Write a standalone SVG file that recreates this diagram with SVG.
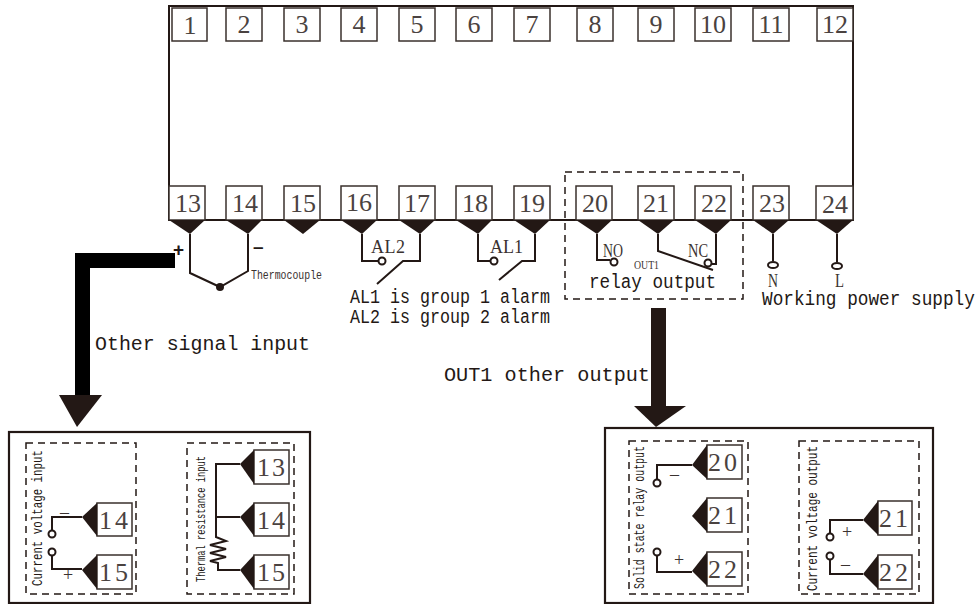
<svg xmlns="http://www.w3.org/2000/svg" width="979" height="604" viewBox="0 0 979 604">
<style>
.bx{fill:#fff;stroke:#3a302c;stroke-width:1.5}
.n{font-family:"Liberation Serif",serif;font-size:26px;fill:#4a4240;text-anchor:middle}
.tr{fill:#231815}
.w{fill:none;stroke:#231815;stroke-width:2}
.c{fill:#fff;stroke:#231815;stroke-width:2}
.d{fill:none;stroke:#231815;stroke-width:1.5;stroke-dasharray:7 5}
.pn{fill:#fff;stroke:#231815;stroke-width:2.2}
.m{font-family:"Liberation Mono",monospace;font-size:20px;fill:#231815}
.s{font-family:"Liberation Serif",serif;fill:#3a3230}
.v{font-family:"Liberation Mono",monospace;font-size:15px;fill:#231815}
.sy{font-family:"Liberation Serif",serif;font-size:18px;fill:#3a3230}
.b{font-family:"Liberation Sans",sans-serif;font-size:19px;font-weight:bold;fill:#231815}
</style>
<rect width="979" height="604" fill="#fff"/>
<g id="device"><path d="M169 220V6H853V220Z" fill="none" stroke="#231815" stroke-width="2"/></g>
<g id="t1"><rect class="bx" x="172" y="8" width="35" height="33"/><text class="n" x="190" y="34">1</text></g>
<g id="t2"><rect class="bx" x="226" y="8" width="36" height="33"/><text class="n" x="244" y="33">2</text></g>
<g id="t3"><rect class="bx" x="284" y="8" width="36" height="33"/><text class="n" x="302" y="33">3</text></g>
<g id="t4"><rect class="bx" x="341" y="8" width="36" height="33"/><text class="n" x="359" y="33">4</text></g>
<g id="t5"><rect class="bx" x="399" y="8" width="36" height="33"/><text class="n" x="417" y="33">5</text></g>
<g id="t6"><rect class="bx" x="456" y="8" width="36" height="33"/><text class="n" x="474" y="33">6</text></g>
<g id="t7"><rect class="bx" x="514" y="8" width="36" height="33"/><text class="n" x="532" y="33">7</text></g>
<g id="t8"><rect class="bx" x="577" y="8" width="36" height="33"/><text class="n" x="595" y="33">8</text></g>
<g id="t9"><rect class="bx" x="638" y="8" width="36" height="33"/><text class="n" x="656" y="33">9</text></g>
<g id="t10"><rect class="bx" x="695" y="8" width="36" height="33"/><text class="n" x="713" y="33">10</text></g>
<g id="t11"><rect class="bx" x="753" y="8" width="36" height="33"/><text class="n" x="771" y="33">11</text></g>
<g id="t12"><rect class="bx" x="817" y="8" width="36" height="33"/><text class="n" x="835" y="33">12</text></g>
<g id="t13"><rect class="bx" x="169" y="186" width="36" height="34"/><text class="n" x="188" y="212">13</text><path class="tr" d="M169 220H205L190 234Z"/></g>
<g id="t14"><rect class="bx" x="226" y="186" width="36" height="34"/><text class="n" x="245" y="212">14</text><path class="tr" d="M226 220H262L248 234Z"/></g>
<g id="t15"><rect class="bx" x="284" y="186" width="36" height="34"/><text class="n" x="303" y="212">15</text><path class="tr" d="M284 220H320L303 234Z"/></g>
<g id="t16"><rect class="bx" x="341" y="186" width="36" height="34"/><text class="n" x="359" y="211">16</text><path class="tr" d="M341 220H377L362 234Z"/></g>
<g id="t17"><rect class="bx" x="399" y="186" width="36" height="34"/><text class="n" x="417" y="212">17</text><path class="tr" d="M399 220H435L420 234Z"/></g>
<g id="t18"><rect class="bx" x="456" y="186" width="36" height="34"/><text class="n" x="475" y="212">18</text><path class="tr" d="M456 220H492L478 234Z"/></g>
<g id="t19"><rect class="bx" x="514" y="186" width="36" height="34"/><text class="n" x="532" y="212">19</text><path class="tr" d="M514 220H550L535 234Z"/></g>
<g id="t20"><rect class="bx" x="576" y="186" width="36" height="34"/><text class="n" x="595" y="212">20</text><path class="tr" d="M576 220H612L597 234Z"/></g>
<g id="t21"><rect class="bx" x="638" y="186" width="36" height="34"/><text class="n" x="656" y="212">21</text><path class="tr" d="M638 220H674L658 234Z"/></g>
<g id="t22"><rect class="bx" x="695" y="186" width="36" height="34"/><text class="n" x="714" y="212">22</text><path class="tr" d="M695 220H731L716 234Z"/></g>
<g id="t23"><rect class="bx" x="753" y="186" width="36" height="34"/><text class="n" x="772" y="212">23</text><path class="tr" d="M753 220H789L773 234Z"/></g>
<g id="t24"><rect class="bx" x="816" y="186" width="37" height="34"/><text class="n" x="835" y="213">24</text><path class="tr" d="M816 220H853L837 234Z"/></g>
<g id="connectors">
<path class="w" d="M190 234V273L220 287L248 271V234"/><circle cx="220" cy="287" r="4" fill="#231815"/>
<path class="w" d="M362 234V261H380"/><circle class="c" cx="382" cy="261" r="3.5"/>
<path class="w" d="M420 234V261H403L377 284"/>
<path class="w" d="M478 234V261H491"/><circle class="c" cx="494" cy="261" r="3.5"/>
<path class="w" d="M535 234V261H522L499 280"/>
<path class="w" d="M597 234V260H610"/><circle class="c" cx="614" cy="262" r="3.5"/>
<path class="w" d="M658 234V251L713 270"/>
<path class="w" d="M716 234V264H711"/><circle class="c" cx="708" cy="263" r="3.5"/>
<path class="w" d="M773 234V261"/><ellipse class="c" cx="773" cy="265" rx="5" ry="3"/>
<path class="w" d="M837 234V262"/><ellipse class="c" cx="837" cy="266" rx="5" ry="3"/>
<path d="M175 253V268H90V404H75V253Z" fill="#000"/>
<path class="tr" d="M59 395H102L77 427Z"/>
<path d="M651 308H666V406H651Z" fill="#231815"/>
<path class="tr" d="M634 406H686L656 427Z"/>
</g>
<g id="relay-frame"><rect class="d" x="565" y="172" width="178" height="127"/></g>
<g id="labels">
<text class="b" x="173" y="256">+</text>
<text class="b" x="253" y="253">–</text>
<text x="251" y="279" font-family="Liberation Mono,monospace" font-size="13" fill="#3a3230" textLength="71" lengthAdjust="spacingAndGlyphs">Thermocouple</text>
<text class="s" x="371" y="253" font-size="18" textLength="34">AL2</text>
<text class="s" x="490" y="253" font-size="18" textLength="33">AL1</text>
<text class="s" x="603" y="257" font-size="19" textLength="20" lengthAdjust="spacingAndGlyphs">NO</text>
<text class="s" x="688" y="257" font-size="19" textLength="20" lengthAdjust="spacingAndGlyphs">NC</text>
<text class="s" x="634" y="269" font-size="12" textLength="25" lengthAdjust="spacingAndGlyphs">OUT1</text>
<text class="s" x="768" y="287" font-size="18" textLength="10" lengthAdjust="spacingAndGlyphs">N</text>
<text class="s" x="835" y="287" font-size="18" textLength="9" lengthAdjust="spacingAndGlyphs">L</text>
<text class="m" x="350" y="303" textLength="200" lengthAdjust="spacingAndGlyphs">AL1 is group 1 alarm</text>
<text class="m" x="350" y="323" textLength="200" lengthAdjust="spacingAndGlyphs">AL2 is group 2 alarm</text>
<text class="m" x="589" y="288" textLength="127" lengthAdjust="spacingAndGlyphs">relay output</text>
<text class="m" transform="translate(762 305) scale(.8875 1)">Working power supply</text>
<text class="m" x="95" y="350" textLength="215" lengthAdjust="spacingAndGlyphs">Other signal input</text>
<text class="m" x="444" y="381" textLength="206" lengthAdjust="spacingAndGlyphs">OUT1 other output</text>
</g>
<g id="panel-input">
<rect class="pn" x="9" y="432" width="301" height="171"/>
<rect class="d" x="26" y="443" width="110" height="151"/>
<rect class="d" x="187" y="443" width="107" height="151"/>
<text class="v" transform="translate(42 586) rotate(-90)" textLength="136" lengthAdjust="spacingAndGlyphs">Current voltage input</text>
<text class="v" style="font-size:13px" transform="translate(205 582) rotate(-90)" textLength="126" lengthAdjust="spacingAndGlyphs">Thermal resistance input</text>
<rect class="bx" x="97" y="503" width="35" height="33"/><text class="n" x="115" y="529" letter-spacing="3">14</text><path class="tr" d="M97 503V536L82 517Z"/>
<rect class="bx" x="97" y="555" width="35" height="34"/><text class="n" x="115" y="581" letter-spacing="3">15</text><path class="tr" d="M97 555V589L82 570Z"/>
<path class="w" d="M82 517H52V530"/><circle class="c" cx="52" cy="534" r="3.5"/>
<circle class="c" cx="52" cy="552" r="3.5"/><path class="w" d="M52 556V569H82"/>
<text class="sy" x="60" y="518">–</text><text class="sy" x="63" y="581">+</text>
<rect class="bx" x="254" y="450" width="35" height="34"/><text class="n" x="272" y="476" letter-spacing="2">13</text><path class="tr" d="M254 450V484L240 464Z"/>
<rect class="bx" x="254" y="503" width="35" height="33"/><text class="n" x="272" y="529" letter-spacing="2">14</text><path class="tr" d="M254 503V536L240 517Z"/>
<rect class="bx" x="254" y="555" width="35" height="34"/><text class="n" x="272" y="581" letter-spacing="2">15</text><path class="tr" d="M254 555V589L240 570Z"/>
<path class="w" d="M240 464H216V537L226 541L210 545L226 549L210 553L226 557L210 561L218 563V570H240M216 517H240"/>
</g>
<g id="panel-output">
<rect class="pn" x="605" y="428" width="328" height="175"/>
<rect class="d" x="629" y="441" width="119" height="153"/>
<rect class="d" x="799" y="441" width="120" height="153"/>
<text class="v" transform="translate(644 589) rotate(-90)" textLength="143" lengthAdjust="spacingAndGlyphs">Solid state relay output</text>
<text class="v" transform="translate(817 591) rotate(-90)" textLength="145" lengthAdjust="spacingAndGlyphs">Current voltage output</text>
<rect class="bx" x="707" y="445" width="35" height="34"/><text class="n" x="724" y="471" letter-spacing="3">20</text><path class="tr" d="M707 445V479L692 465Z"/>
<rect class="bx" x="707" y="498" width="35" height="34"/><text class="n" x="724" y="524" letter-spacing="3">21</text><path class="tr" d="M707 498V532L692 516Z"/>
<rect class="bx" x="707" y="552" width="35" height="34"/><text class="n" x="724" y="578" letter-spacing="3">22</text><path class="tr" d="M707 552V586L692 571Z"/>
<path class="w" d="M692 465H657V479"/><circle class="c" cx="657" cy="483" r="3.5"/>
<circle class="c" cx="657" cy="552" r="3.5"/><path class="w" d="M657 556V572H692"/>
<text class="sy" x="670" y="480">–</text><text class="sy" x="674" y="566">+</text>
<rect class="bx" x="878" y="501" width="34" height="34"/><text class="n" x="895" y="527" letter-spacing="3">21</text><path class="tr" d="M878 501V535L863 520Z"/>
<rect class="bx" x="878" y="555" width="34" height="34"/><text class="n" x="895" y="581" letter-spacing="3">22</text><path class="tr" d="M878 555V589L863 574Z"/>
<path class="w" d="M863 520H830V533"/><circle class="c" cx="830" cy="537" r="3.5"/>
<circle class="c" cx="830" cy="556" r="3.5"/><path class="w" d="M830 560V574H863"/>
<text class="sy" x="842" y="538">+</text><text class="sy" x="841" y="570">–</text>
</g>
</svg>
